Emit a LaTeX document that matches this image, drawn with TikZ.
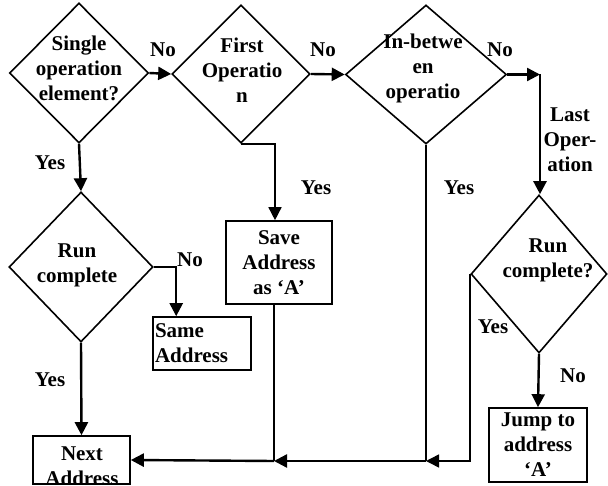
\documentclass[tikz,border=0pt]{standalone}
\usepackage{fontspec}
\setmainfont{Liberation Serif}
\usetikzlibrary{shapes.geometric,arrows.meta}
\begin{document}
\begin{tikzpicture}[x=1pt,y=-1pt,
  every node/.style={font=\fontsize{21}{25}\selectfont\bfseries},
  dia/.style={draw,diamond,inner sep=0pt,line width=1.6pt},
  boxn/.style={draw,rectangle,line width=1.6pt,inner sep=1pt,align=center},
  txt/.style={align=center,inner sep=0pt},
  lbl/.style={inner sep=0pt},
  tip/.style={-{Triangle[length=13pt,width=13pt]}},
  arr/.style={line width=2.4pt,tip},
  ln/.style={line width=2.4pt},
  thin/.style={line width=1.5pt}]
\useasboundingbox (0,0) rectangle (608,486);
% diamonds
\node[dia,minimum width=139,minimum height=140] (d1) at (79,73) {};
\node[dia,minimum width=138,minimum height=138] (d2) at (241,74) {};
\node[dia,minimum width=161,minimum height=139] (d3) at (426,74.5) {};
\node[dia,minimum width=136,minimum height=158] (d4) at (539,274) {};
\node[dia,minimum width=144,minimum height=150] (d5) at (81,267) {};
% diamond texts
\node[txt] (t1) at (79,68) {Single\\operation\\element?};
\node[txt] (t2) at (242,70) {First\\Operatio\\n};
\node[txt] (t3) at (423,68) {In-betwe\\en\\operatio};
\node[txt] (t4) at (548,260) {Run\\complete?};
\node[txt] (t5) at (77,265) {Run\\complete};
% boxes
\node[boxn,minimum width=106,minimum height=83] (save) at (279,262.5) {Save\\Address\\as ‘A’};
\node[boxn,minimum width=98,minimum height=53,text width=94,align=left] (same) at (202,343.5) {Same\\Address};
\node[boxn,minimum width=98,minimum height=74] (jump) at (538,445) {Jump to\\address\\‘A’};
\node[draw,rectangle,line width=1.6pt,minimum width=97,minimum height=48,inner sep=0pt] (next) at (81.5,460) {};
\begin{scope}
\clip (next.south west) rectangle (next.north east);
\node[txt] (tnext) at (82,466) {Next\\Address};
\end{scope}
% labels
\node[lbl] (n1) at (163,50) {No};
\node[lbl] (n2) at (323,50) {No};
\node[lbl] (n3) at (500,50) {No};
\node[txt] (last) at (570,140) {Last\\Oper-\\ation};
\node[lbl] (y1) at (50,163) {Yes};
\node[lbl] (y2) at (316,188) {Yes};
\node[lbl] (y3) at (459,188) {Yes};
\node[lbl] (n5) at (190,260) {No};
\node[lbl] (y5) at (50,380) {Yes};
\node[lbl] (y4) at (493,327) {Yes};
\node[lbl] (n4) at (573,376) {No};
% coordinates
\coordinate (c1) at (540,74.5);
\coordinate (bot3) at (426,461);
\coordinate (bot2) at (274,461);
% connectors
\draw[arr] (d1.east) -- (d2.west);
\draw[arr] (d2.east) -- (d3.west);
\draw[arr] (d3.east) -- (c1);
\draw[arr] (c1) -- (d4.north -| c1);
\draw[thin,tip] (d2.south) -| ([xshift=-4pt]save.north);
\draw[arr] (d1.south) -- (d5.north);
\draw[arr] (d5.east) -| ([xshift=24pt]same.north west);
\draw[arr] (d5.south) -- (next.north);
\draw[arr] (d4.south) -- (jump.north);
\draw[thin] (d3.south) -- (bot3);
\draw[thin,tip] (d4.west) |- (bot3);
\draw[thin] ([xshift=-5pt]save.south) -- (bot2);
\draw[arr] (bot3) -- (bot2);
\draw[arr] (bot2) -- (next.east);
\end{tikzpicture}
\end{document}
